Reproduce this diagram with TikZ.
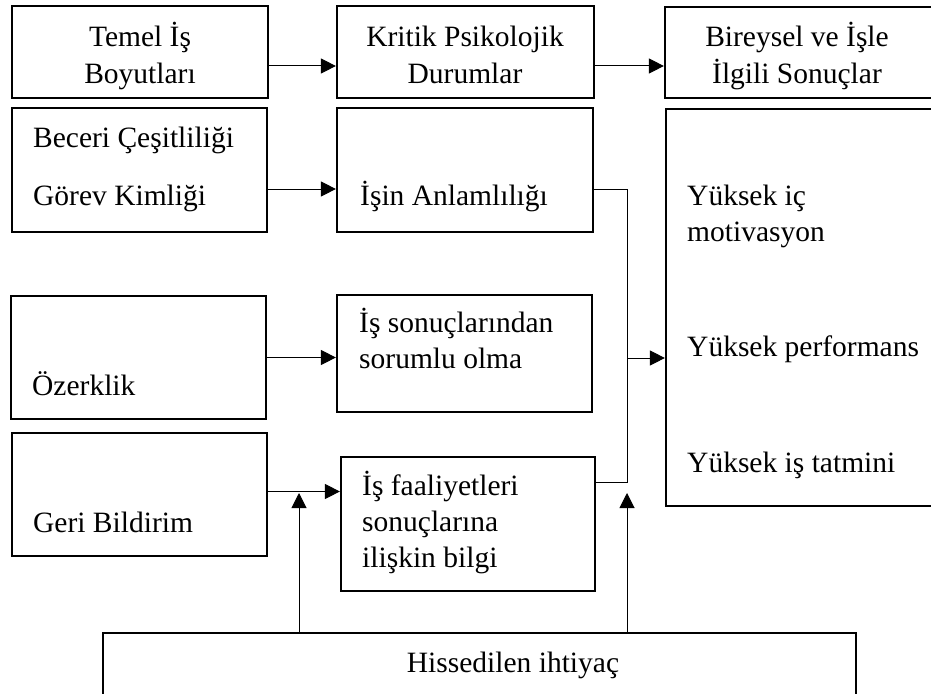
\documentclass[tikz,border=0pt]{standalone}
\usepackage{fontspec}
\setmainfont{Liberation Serif}
\usetikzlibrary{arrows.meta}
\tikzset{
  kutu/.style={draw, line width=2.2pt, inner sep=0pt},
  yazi/.style={inner sep=0pt, anchor=base west},
  orta/.style={inner sep=0pt, anchor=base},
  ok/.style={line width=1pt, -{Triangle[length=15pt,width=15pt]}},
  hat/.style={line width=1pt}
}
\begin{document}
\begin{tikzpicture}[x=1pt,y=-1pt,font=\fontsize{29.5}{36}\selectfont]
  \useasboundingbox (0,0) rectangle (931,693);
  % kutular
  \node[kutu, minimum width=256pt, minimum height=92pt] (temel) at (140,52) {};
  \node[kutu, minimum width=257pt, minimum height=92pt] (kritik) at (465.5,52) {};
  \node[kutu, minimum width=270pt, minimum height=91pt] (bireysel) at (800,52.5) {};
  \node[kutu, minimum width=255pt, minimum height=124pt] (beceri) at (139.5,170) {};
  \node[kutu, minimum width=256pt, minimum height=124pt] (anlam) at (465,170) {};
  \node[kutu, minimum width=269pt, minimum height=397pt] (sonuc) at (800.5,307.5) {};
  \node[kutu, minimum width=255pt, minimum height=123pt] (ozerk) at (138.5,357.5) {};
  \node[kutu, minimum width=255pt, minimum height=117pt] (sorum) at (464.5,353.5) {};
  \node[kutu, minimum width=255pt, minimum height=123pt] (geri) at (139.5,494.5) {};
  \node[kutu, minimum width=254pt, minimum height=134pt] (faal) at (468,524) {};
  \node[kutu, minimum width=753pt, minimum height=77pt] (ihtiyac) at (479.5,671.5) {};
  % yazilar
  \node[orta] (t1a) at (140,47) {Temel İş};
  \node[orta] (t1b) at (140,83) {Boyutları};
  \node[orta] (t2a) at (465,47) {Kritik Psikolojik};
  \node[orta] (t2b) at (465,83) {Durumlar};
  \node[orta] (t3a) at (797,47) {Bireysel ve İşle};
  \node[orta] (t3b) at (797,83) {İlgili Sonuçlar};
  \node[yazi] (bc) at (33,147) {Beceri Çeşitliliği};
  \node[yazi] (gk) at (33,205) {Görev Kimliği};
  \node[yazi] (ia) at (360,205) {İşin Anlamlılığı};
  \node[yazi] (oz) at (32,395) {Özerklik};
  \node[yazi] (is1) at (359,332) {İş sonuçlarından};
  \node[yazi] (is2) at (359,368) {sorumlu olma};
  \node[yazi] (gb) at (33,532) {Geri Bildirim};
  \node[yazi] (if1) at (362,495) {İş faaliyetleri};
  \node[yazi] (if2) at (362,531) {sonuçlarına};
  \node[yazi] (if3) at (362,567) {ilişkin bilgi};
  \node[yazi] (y1a) at (687,205) {Yüksek iç};
  \node[yazi] (y1b) at (687,241) {motivasyon};
  \node[yazi] (y2) at (687,356) {Yüksek performans};
  \node[yazi] (y3) at (687,472) {Yüksek iş tatmini};
  \node[orta] (hi) at (513,672) {Hissedilen ihtiyaç};
  % oklar
  \coordinate (j1) at (627,189);
  \coordinate (j2) at (627,482);
  \coordinate (jm) at (627,358);
  \coordinate (u1) at (299,493);
  \coordinate (u2) at (627,493);
  \draw[ok] ([yshift=-14pt]temel.east) coordinate (a1) -- (a1 -| kritik.west);
  \draw[ok] ([yshift=-14pt]kritik.east) coordinate (a2) -- (a2 -| bireysel.west);
  \draw[ok] ([yshift=-19pt]beceri.east) coordinate (a3) -- (a3 -| anlam.west);
  \draw[ok] (ozerk.east) -- (ozerk.east -| sorum.west);
  \draw[ok] ([yshift=3pt]geri.east) coordinate (a4) -- (a4 -| faal.west);
  \draw[hat] ([yshift=-19pt]anlam.east) coordinate (a5) -- (a5 -| j1) -- (j2) -- (j2 -| faal.east);
  \draw[ok] (jm) -- (jm -| sonuc.west);
  \draw[ok] (ihtiyac.north -| u1) -- (u1);
  \draw[ok] (ihtiyac.north -| u2) -- (u2);
\end{tikzpicture}
\end{document}
